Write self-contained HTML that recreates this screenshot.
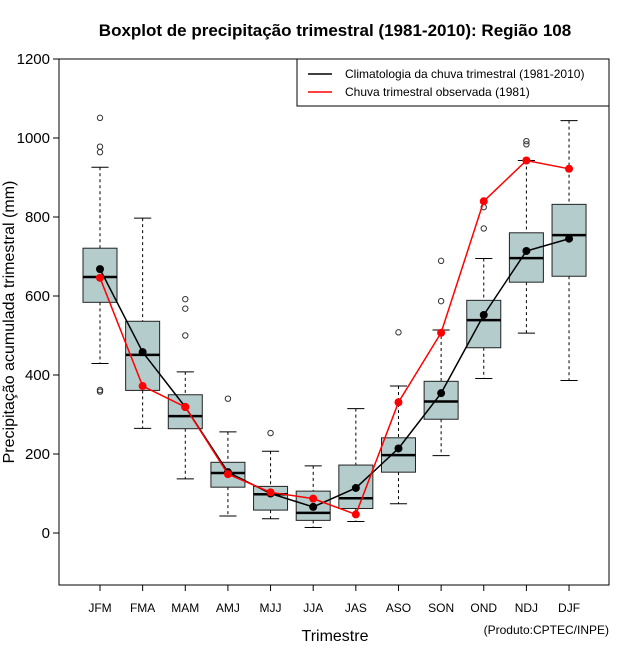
<!DOCTYPE html>
<html><head><meta charset="utf-8"><style>
body{margin:0;background:#fff;}
svg{display:block;font-family:"Liberation Sans",sans-serif;}
</style></head><body>
<svg id="chart" width="640" height="660" xmlns="http://www.w3.org/2000/svg">
<rect width="640" height="660" fill="#fff"/>
<text x="335" y="36" text-anchor="middle" font-size="17" font-weight="bold">Boxplot de precipitação trimestral (1981-2010): Região 108</text>
<rect x="59" y="59" width="550" height="526" fill="none" stroke="#000" stroke-width="1"/>
<g id="yaxis"></g>
<g id="xaxis"></g>
<g id="boxes"></g>
<g id="lines"></g>
<text transform="translate(14,322) rotate(-90)" text-anchor="middle" font-size="16">Precipitação acumulada trimestral (mm)</text>
<text x="335" y="641" text-anchor="middle" font-size="16">Trimestre</text>
<text x="609" y="634" text-anchor="end" font-size="12">(Produto:CPTEC/INPE)</text>
<g>
<rect x="297" y="59" width="312" height="47" fill="#fff" stroke="#000"/>
<line x1="308" y1="74" x2="332" y2="74" stroke="#000" stroke-width="1.5"/>
<text x="345" y="78" font-size="12">Climatologia da chuva trimestral (1981-2010)</text>
<line x1="308" y1="92" x2="332" y2="92" stroke="#f00" stroke-width="1.5"/>
<text x="345" y="96" font-size="12">Chuva trimestral observada (1981)</text>
</g>
</svg>
<script>
const categories=["JFM","FMA","MAM","AMJ","MJJ","JJA","JAS","ASO","SON","OND","NDJ","DJF"];
const whiskerHigh=[926,797,408,256,207,170,315,372,514,695,943,1044];
const q3=[721,536,350,179,118,106,172,241,384,589,760,832];
const median=[648,451,296,152,98,51,88,197,333,539,696,754];
const q1=[584,361,264,116,58,32,62,154,288,469,635,650];
const whiskerLow=[429,265,137,43,36,14,29,74,196,391,506,386];
const outliers=[[1051,978,964,362,358],[],[592,568,500],[340],[253],[],[],[508],[689,587],[771,825],[992,984],[]];
const climatology=[668,458,319,154,100,66,114,214,354,552,714,745];
const observed=[646,372,319,149,103,87,47,331,507,840,943,922];
const yTicks=[0,200,400,600,800,1000,1200];

const NS="http://www.w3.org/2000/svg";
const y=v=>533-v*0.395;
const x=i=>100+i*42.64;
function mk(parent,tag,attrs){const e=document.createElementNS(NS,tag);for(const k in attrs)e.setAttribute(k,attrs[k]);document.getElementById(parent).appendChild(e);return e;}

yTicks.forEach(t=>{
  const l=mk("yaxis","line",{x1:53,x2:59,y1:y(t),y2:y(t),stroke:"#000"});
  
  
  const tx=mk("yaxis","text",{x:50,y:y(t)+5,"text-anchor":"end","font-size":"15"});
  tx.textContent=t;
  
  
});
categories.forEach((c,i)=>{
  const l=mk("xaxis","line",{x1:x(i),x2:x(i),y1:585,y2:591,stroke:"#000"});
  
  
  const tx=mk("xaxis","text",{x:x(i),y:612,"text-anchor":"middle","font-size":"12"});
  tx.textContent=c;
  
  

  const hw=17, cw=12;
  const w1=mk("boxes","line",{x1:x(i),x2:x(i),y1:y(whiskerHigh[i]),y2:y(q3[i]),stroke:"#000","stroke-dasharray":"3,3"});
  
  
  const w2=mk("boxes","line",{x1:x(i),x2:x(i),y1:y(q1[i]),y2:y(whiskerLow[i]),stroke:"#000","stroke-dasharray":"3,3"});
  
  
  const c1=mk("boxes","line",{x1:x(i)-cw/1.4,x2:x(i)+cw/1.4,y1:y(whiskerHigh[i]),y2:y(whiskerHigh[i]),stroke:"#000"});
  
  
  const c2=mk("boxes","line",{x1:x(i)-cw/1.4,x2:x(i)+cw/1.4,y1:y(whiskerLow[i]),y2:y(whiskerLow[i]),stroke:"#000"});
  
  
  const b=mk("boxes","rect",{x:x(i)-hw,y:y(q3[i]),width:hw*2,height:y(q1[i])-y(q3[i]),fill:"#b4cccc",stroke:"#222"});
  
  
  const m=mk("boxes","line",{x1:x(i)-hw,x2:x(i)+hw,y1:y(median[i]),y2:y(median[i]),stroke:"#000","stroke-width":"2.5"});
  
  
  outliers[i].forEach(o=>{
    const p=mk("boxes","circle",{cx:x(i),cy:y(o),r:2.7,fill:"none",stroke:"#333"});
    
    
  });
});
function series(vals,color,name){
  const pl=mk("lines","polyline",{points:vals.map((v,i)=>x(i)+","+y(v)).join(" "),fill:"none",stroke:color,"stroke-width":"1.5"});
  
  
  vals.forEach(v=>{});
  vals.forEach((v,i)=>{
    const p=mk("lines","circle",{cx:x(i),cy:y(v),r:4,fill:color});
    
    
  });
}
series(climatology,"#000","climatology");
series(observed,"#f00","observed");
</script>
</body></html>
